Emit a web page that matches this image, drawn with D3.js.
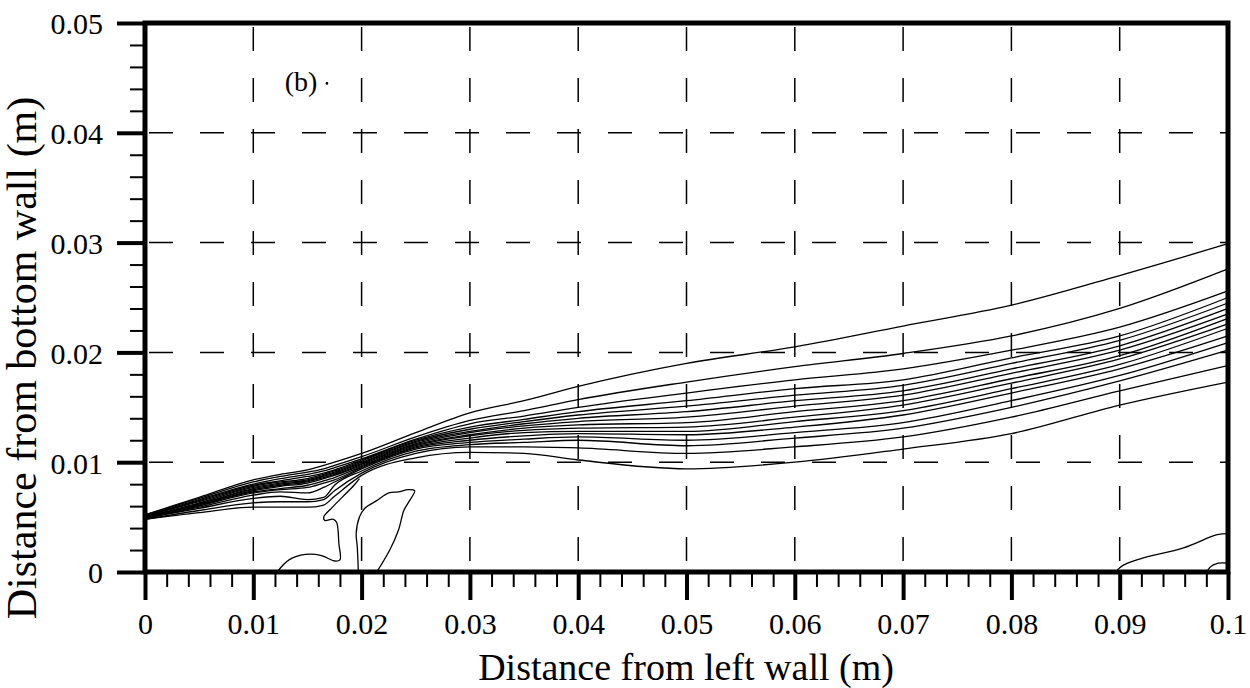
<!DOCTYPE html>
<html>
<head>
<meta charset="utf-8">
<script src="https://cdn.jsdelivr.net/npm/d3@7/dist/d3.min.js"></script>
<style>
  body { margin: 0; background: #fff; }
  svg { display: block; }
  text { font-family: "Liberation Serif", "Times New Roman", serif; fill: #000; }
</style>
</head>
<body>
<svg id="chart" width="1250" height="688"></svg>
<script>
var WIDTH = 1250, HEIGHT = 688;
var LEFT = 145, RIGHT = 1228, TOP = 23, BOTTOM = 572;

// tick values
var X_MAJOR = [0, 0.01, 0.02, 0.03, 0.04, 0.05, 0.06, 0.07, 0.08, 0.09, 0.1];
var Y_MAJOR = [0, 0.01, 0.02, 0.03, 0.04, 0.05];
var X_GRID = [0.01, 0.02, 0.03, 0.04, 0.05, 0.06, 0.07, 0.08, 0.09];
var Y_GRID = [0.01, 0.02, 0.03, 0.04];

var stations = [0, 0.005, 0.01, 0.0125, 0.015, 0.0165, 0.0175, 0.02, 0.025, 0.03,
                0.035, 0.04, 0.05, 0.06, 0.07, 0.08, 0.09, 0.1];

// y (m) of each contour at the stations, top line first
var contours = [
  [0.0052, 0.0068, 0.0084, 0.0089, 0.0093, 0.0097, 0.0100, 0.0108, 0.0127, 0.0145, 0.0156, 0.0169, 0.0190, 0.0205, 0.0224, 0.0243, 0.0270, 0.0299],
  [0.0052, 0.0067, 0.0082, 0.0087, 0.0091, 0.0094, 0.0097, 0.0105, 0.0123, 0.0138, 0.0147, 0.0157, 0.0173, 0.0187, 0.0199, 0.0215, 0.0240, 0.0276],
  [0.0051, 0.0066, 0.0080, 0.0085, 0.0089, 0.0092, 0.0095, 0.0103, 0.0121, 0.0135, 0.0142, 0.0150, 0.0163, 0.0175, 0.0185, 0.0202, 0.0223, 0.0256],
  [0.0051, 0.0065, 0.0079, 0.0083, 0.0087, 0.0090, 0.0093, 0.0102, 0.0120, 0.0132, 0.0139, 0.0146, 0.0156, 0.0167, 0.0175, 0.0195, 0.0215, 0.0250],
  [0.0051, 0.0064, 0.0078, 0.0082, 0.0085, 0.0089, 0.0092, 0.0101, 0.0119, 0.0130, 0.0137, 0.0143, 0.0151, 0.0161, 0.0170, 0.0190, 0.0211, 0.0245],
  [0.0050, 0.0063, 0.0077, 0.0081, 0.0084, 0.0088, 0.0091, 0.0100, 0.0118, 0.0128, 0.0135, 0.0140, 0.0146, 0.0156, 0.0165, 0.0185, 0.0206, 0.0240],
  [0.0050, 0.0062, 0.0076, 0.0080, 0.0083, 0.0087, 0.0090, 0.0099, 0.0117, 0.0127, 0.0133, 0.0137, 0.0141, 0.0151, 0.0161, 0.0181, 0.0202, 0.0235],
  [0.0050, 0.0062, 0.0075, 0.0079, 0.0082, 0.0086, 0.0089, 0.0098, 0.0116, 0.0125, 0.0131, 0.0134, 0.0136, 0.0146, 0.0156, 0.0176, 0.0197, 0.0231],
  [0.0050, 0.0061, 0.0074, 0.0078, 0.0081, 0.0085, 0.0088, 0.0097, 0.0115, 0.0124, 0.0129, 0.0131, 0.0132, 0.0141, 0.0152, 0.0172, 0.0194, 0.0226],
  [0.0050, 0.0061, 0.0073, 0.0076, 0.0079, 0.0083, 0.0086, 0.0096, 0.0114, 0.0122, 0.0127, 0.0128, 0.0128, 0.0137, 0.0147, 0.0167, 0.0189, 0.0222],
  [0.0049, 0.0060, 0.0072, 0.0075, 0.0077, 0.0081, 0.0084, 0.0095, 0.0113, 0.0120, 0.0124, 0.0126, 0.0125, 0.0132, 0.0143, 0.0163, 0.0185, 0.0215],
  [0.0049, 0.0059, 0.0070, 0.0073, 0.0072, 0.0077, 0.0082, 0.0094, 0.0112, 0.0118, 0.0121, 0.0123, 0.0120, 0.0127, 0.0136, 0.0156, 0.0179, 0.0209],
  [0.0049, 0.0058, 0.0067, 0.0069, 0.0066, 0.0068, 0.0079, 0.0092, 0.0110, 0.0116, 0.0118, 0.0120, 0.0115, 0.0122, 0.0131, 0.0150, 0.0174, 0.0202],
  [0.0048, 0.0056, 0.0063, 0.0064, 0.0064, 0.0066, 0.0074, 0.0090, 0.0108, 0.0114, 0.0114, 0.0113, 0.0108, 0.0114, 0.0123, 0.0141, 0.0165, 0.0188],
  [0.0048, 0.0054, 0.0059, 0.0059, 0.0059, 0.0061, 0.0069, 0.0088, 0.0104, 0.0109, 0.0108, 0.0102, 0.0094, 0.0100, 0.0112, 0.0126, 0.0152, 0.0173]
];

// separate contours near the bottom wall, [x, y] in m
var tongue = [[0.0122, 0], [0.0133, 0.0011], [0.0148, 0.0016], [0.0163, 0.0015], [0.0175, 0.0010],
              [0.0180, 0.0011], [0.0179, 0.0026], [0.0177, 0.0045], [0.0174, 0.0048], [0.0166, 0.0047],
              [0.0165, 0.0050], [0.0172, 0.0058], [0.0182, 0.0068], [0.0193, 0.0079], [0.0198, 0.0085]];
var loop = [[0.0197, 0], [0.0196, 0.0023], [0.0195, 0.0035], [0.0198, 0.0050], [0.0203, 0.0058],
            [0.0214, 0.0065], [0.0225, 0.0072], [0.0234, 0.0073], [0.0243, 0.0075], [0.0249, 0.0074],
            [0.0243, 0.0063], [0.0239, 0.0056], [0.0234, 0.0038], [0.0226, 0.0020], [0.0214, 0]];
var cornerOuter = [[0.0896, 0], [0.0903, 0.0006], [0.0919, 0.0012], [0.0959, 0.0022], [0.0990, 0.0034], [0.1, 0.0035]];
var cornerInner = [[0.0981, 0], [0.0983, 0.0004], [0.0991, 0.0008], [0.1, 0.0008]];

var svg = d3.select("#chart");
var x = d3.scaleLinear().domain([0, 0.1]).range([LEFT, RIGHT]);
var y = d3.scaleLinear().domain([0, 0.05]).range([BOTTOM, TOP]);

var fmt = function(d) { return d === 0 ? "0" : String(+d.toFixed(2)); };

// dashed grid
svg.append("g").selectAll("line").data(X_GRID).enter().append("line")
  .attr("x1", function(d) { return x(d); }).attr("x2", function(d) { return x(d); })
  .attr("y1", TOP + 4).attr("y2", BOTTOM)
  .attr("stroke", "#000").attr("stroke-width", 1.5)
  .attr("stroke-dasharray", "24,27");
svg.append("g").selectAll("line").data(Y_GRID).enter().append("line")
  .attr("y1", function(d) { return y(d); }).attr("y2", function(d) { return y(d); })
  .attr("x1", LEFT + 4).attr("x2", RIGHT)
  .attr("stroke", "#000").attr("stroke-width", 1.5)
  .attr("stroke-dasharray", "24,27");

// contour lines
var line = d3.line()
  .x(function(d) { return x(d[0]); })
  .y(function(d) { return y(d[1]); })
  .curve(d3.curveMonotoneX);
var freeLine = d3.line()
  .x(function(d) { return x(d[0]); })
  .y(function(d) { return y(d[1]); })
  .curve(d3.curveCatmullRom.alpha(0.5));

var g = svg.append("g").attr("fill", "none").attr("stroke", "#000").attr("stroke-width", 1.3);
contours.forEach(function(ys) {
  g.append("path").attr("d", line(ys.map(function(v, i) { return [stations[i], v]; })));
});
[tongue, loop, cornerOuter, cornerInner].forEach(function(pts) {
  g.append("path").attr("d", freeLine(pts));
});

// axes: major + minor ticks
var xMinor = d3.range(0, 0.1001, 0.002);
var yMinor = d3.range(0, 0.0501, 0.002);

var xAxis = svg.append("g").attr("transform", "translate(0," + BOTTOM + ")")
  .call(d3.axisBottom(x).tickValues(X_MAJOR).tickSize(28).tickPadding(13).tickFormat(fmt));
svg.append("g").attr("transform", "translate(0," + BOTTOM + ")")
  .call(d3.axisBottom(x).tickValues(xMinor).tickSize(15).tickFormat(""))
  .selectAll("line").attr("stroke-width", 2);
var yAxis = svg.append("g").attr("transform", "translate(" + LEFT + ",0)")
  .call(d3.axisLeft(y).tickValues(Y_MAJOR).tickSize(28).tickPadding(14).tickFormat(fmt));
svg.append("g").attr("transform", "translate(" + LEFT + ",0)")
  .call(d3.axisLeft(y).tickValues(yMinor).tickSize(15).tickFormat(""))
  .selectAll("line").attr("stroke-width", 2);

svg.selectAll(".domain").remove();
xAxis.selectAll("line").attr("stroke-width", 4);
yAxis.selectAll("line").attr("stroke-width", 4);
xAxis.selectAll("text").attr("font-size", 30).attr("font-family", "Liberation Serif, serif");
yAxis.selectAll("text").attr("font-size", 30).attr("font-family", "Liberation Serif, serif").attr("dy", "0.36em");

// frame
svg.append("rect")
  .attr("x", LEFT).attr("y", TOP)
  .attr("width", RIGHT - LEFT).attr("height", BOTTOM - TOP)
  .attr("fill", "none").attr("stroke", "#000").attr("stroke-width", 5);

// titles
svg.append("text")
  .attr("x", 686).attr("y", 680)
  .attr("text-anchor", "middle").attr("font-size", 38)
  .text("Distance from left wall (m)");
svg.append("text")
  .attr("transform", "translate(36," + 358 + ") rotate(-90)")
  .attr("text-anchor", "middle").attr("font-size", 42)
  .text("Distance from bottom wall (m)");

// panel label
svg.append("text")
  .attr("x", x(0.0129)).attr("y", y(0.0438))
  .attr("font-size", 28)
  .text("(b)");
svg.append("circle").attr("cx", x(0.0168)).attr("cy", y(0.0445)).attr("r", 1.3).attr("fill", "#000");
</script>
</body>
</html>
